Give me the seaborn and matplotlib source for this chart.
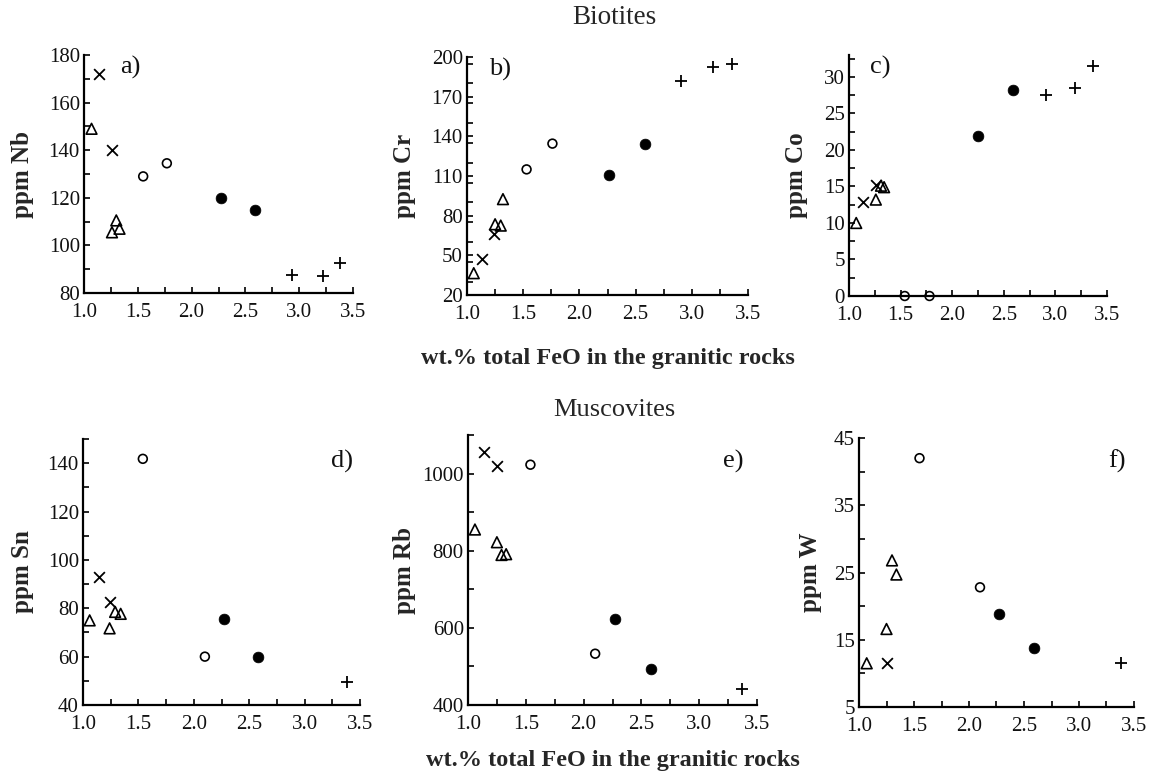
import numpy as np
import pandas as pd
import matplotlib
matplotlib.use("Agg")
import matplotlib.pyplot as plt
from matplotlib.ticker import MultipleLocator
import seaborn as sns

# Total FeO (wt.%) of the host granites and trace-element contents (ppm)
# of the micas, grouped by granite type (one marker per group).

# a) Nb in biotites
nb_cross_x, nb_cross_y = [1.14, 1.26], [172, 140]
nb_tri_x, nb_tri_y = [1.07, 1.26, 1.30, 1.33], [149, 105.5, 110.5, 107]
nb_circ_x, nb_circ_y = [1.55, 1.77], [129, 134.5]
nb_fill_x, nb_fill_y = [2.27, 2.59], [120, 115]
nb_plus_x, nb_plus_y = [2.93, 3.22, 3.38], [87.5, 87, 92.5]

# b) Cr in biotites
cr_cross_x, cr_cross_y = [1.13, 1.24], [47, 66]
cr_tri_x, cr_tri_y = [1.06, 1.25, 1.30, 1.32], [36.5, 73.5, 72.5, 92.5]
cr_circ_x, cr_circ_y = [1.53, 1.76], [115, 134.5]
cr_fill_x, cr_fill_y = [2.26, 2.58], [111, 134.5]
cr_plus_x, cr_plus_y = [2.905, 3.19, 3.36], [181.5, 192.5, 194.5]

# c) Co in biotites
co_cross_x, co_cross_y = [1.14, 1.26], [12.9, 15.2]
co_tri_x, co_tri_y = [1.07, 1.26, 1.31, 1.34], [10.0, 13.2, 15.1, 14.9]
co_circ_x, co_circ_y = [1.54, 1.78], [0, 0]
co_fill_x, co_fill_y = [2.25, 2.59], [21.9, 28.2]
co_plus_x, co_plus_y = [2.91, 3.19, 3.36], [27.5, 28.5, 31.5]

# d) Sn in muscovites
sn_cross_x, sn_cross_y = [1.14, 1.24], [93, 82.5]
sn_tri_x, sn_tri_y = [1.06, 1.24, 1.29, 1.34], [75, 71.7, 78.5, 77.7]
sn_circ_x, sn_circ_y = [1.54, 2.10], [141.8, 60]
sn_fill_x, sn_fill_y = [2.27, 2.58], [75.5, 60]
sn_plus_x, sn_plus_y = [3.38], [49.7]

# e) Rb in muscovites
rb_cross_x, rb_cross_y = [1.14, 1.25], [1055, 1019]
rb_tri_x, rb_tri_y = [1.06, 1.25, 1.29, 1.33], [855, 822, 789, 791]
rb_circ_x, rb_circ_y = [1.54, 2.10], [1023, 533]
rb_fill_x, rb_fill_y = [2.27, 2.58], [623, 493]
rb_plus_x, rb_plus_y = [3.37], [441]

# f) W in muscovites
w_cross_x, w_cross_y = [1.25], [11.5]
w_tri_x, w_tri_y = [1.07, 1.25, 1.30, 1.34], [11.5, 16.6, 26.8, 24.7]
w_circ_x, w_circ_y = [1.55, 2.10], [42, 22.8]
w_fill_x, w_fill_y = [2.27, 2.59], [18.9, 13.8]
w_plus_x, w_plus_y = [3.38], [11.6]

panel_letters = ["a)", "b)", "c)", "d)", "e)", "f)"]
y_labels = ["ppm Nb", "ppm Cr", "ppm Co", "ppm Sn", "ppm Rb", "ppm W"]
x_label = "wt.% total FeO in the granitic rocks"
x_ticks = [1.0, 1.5, 2.0, 2.5, 3.0, 3.5]
row_titles = ["Biotites", "Muscovites"]


def panel_frame(cross, tri, circ, fill, plus):
    rows = []
    for name, (xs, ys) in zip(["cross", "tri", "circ", "fill", "plus"],
                              [cross, tri, circ, fill, plus]):
        for xv, yv in zip(xs, ys):
            rows.append({"feo": xv, "ppm": yv, "group": name})
    return pd.DataFrame(rows)


panels = [
    panel_frame((nb_cross_x, nb_cross_y), (nb_tri_x, nb_tri_y), (nb_circ_x, nb_circ_y),
                (nb_fill_x, nb_fill_y), (nb_plus_x, nb_plus_y)),
    panel_frame((cr_cross_x, cr_cross_y), (cr_tri_x, cr_tri_y), (cr_circ_x, cr_circ_y),
                (cr_fill_x, cr_fill_y), (cr_plus_x, cr_plus_y)),
    panel_frame((co_cross_x, co_cross_y), (co_tri_x, co_tri_y), (co_circ_x, co_circ_y),
                (co_fill_x, co_fill_y), (co_plus_x, co_plus_y)),
    panel_frame((sn_cross_x, sn_cross_y), (sn_tri_x, sn_tri_y), (sn_circ_x, sn_circ_y),
                (sn_fill_x, sn_fill_y), (sn_plus_x, sn_plus_y)),
    panel_frame((rb_cross_x, rb_cross_y), (rb_tri_x, rb_tri_y), (rb_circ_x, rb_circ_y),
                (rb_fill_x, rb_fill_y), (rb_plus_x, rb_plus_y)),
    panel_frame((w_cross_x, w_cross_y), (w_tri_x, w_tri_y), (w_circ_x, w_circ_y),
                (w_fill_x, w_fill_y), (w_plus_x, w_plus_y)),
]

sns.set_theme(style="ticks")
plt.rcParams["font.family"] = ["Liberation Serif", "DejaVu Serif"]

# marker styling per group
styles = {
    "cross": dict(marker="x", s=60, color="black", linewidth=1.3),
    "tri": dict(marker="^", s=60, facecolor="none", edgecolor="black", linewidth=1.2),
    "circ": dict(marker="o", s=40, facecolor="none", edgecolor="black", linewidth=1.2),
    "fill": dict(marker="o", s=60, color="black", edgecolor="black", linewidth=0.5),
    "plus": dict(marker="+", s=75, color="black", linewidth=1.3),
}

W, H = 1155, 772
fig = plt.figure(figsize=(W / 100, H / 100), dpi=100)

# axes boxes in pixels: left, right, top, bottom
boxes = [
    (84, 353, 55, 293),
    (467, 748, 57, 295),
    (849, 1107, 55, 296),
    (83, 360, 439, 705),
    (468, 757, 435, 705),
    (859, 1134, 438, 707),
]
ylims = [(80, 180), (20, 200), (0, 33), (40, 150), (400, 1100), (5, 45)]
ymajor = [20, 30, 5, 20, 200, 10]
ystart = [80, 20, 0, 40, 400, 5]
yend = [180, 200, 30, 140, 1000, 45]
ylab_dx = [61, 62, 53, 60, 63, 49]
letter_pos = [(0.134, 0.995), (0.08, 0.995), (0.08, 0.995),
              (0.894, 0.96), (0.882, 0.945), (0.905, 0.957)]
xlab_pad = {1: 17.5, 4: 12}

for i, (df, box) in enumerate(zip(panels, boxes)):
    l, r, t, b = box
    ax = fig.add_axes([l / W, 1 - b / H, (r - l) / W, (b - t) / H])
    for name, st in styles.items():
        sub = df[df["group"] == name]
        if len(sub):
            sns.scatterplot(data=sub, x="feo", y="ppm", ax=ax, legend=False,
                            clip_on=False, zorder=3, **st)
    ax.set_xlim(1.0, 3.5)
    ax.set_xticks(x_ticks)
    ax.set_xticklabels([f"{v:.1f}" for v in x_ticks])
    ax.xaxis.set_minor_locator(MultipleLocator(0.25))
    yt = np.arange(ystart[i], yend[i] + 0.001, ymajor[i])
    ax.set_yticks(yt)
    ax.set_yticklabels([f"{int(v)}" for v in yt])
    ax.yaxis.set_minor_locator(MultipleLocator(ymajor[i] / 2))
    ax.set_ylim(*ylims[i])
    ax.tick_params(which="both", direction="in", length=4, width=1.2,
                   color="black", labelsize=15, labelcolor="#111111")
    ax.tick_params(axis="x", pad=7)
    ax.tick_params(axis="y", pad=3)
    for side in ["top", "right"]:
        ax.spines[side].set_visible(False)
    for side in ["left", "bottom"]:
        ax.spines[side].set_linewidth(1.6)
        ax.spines[side].set_color("black")
    ax.set_facecolor("white")
    ax.set_xlabel("")
    ax.set_ylabel(y_labels[i], fontsize=18, fontweight="bold", va="center")
    ax.yaxis.set_label_coords(-ylab_dx[i] / (r - l), 0.5)
    lx, ly = letter_pos[i]
    ax.text(lx, ly, panel_letters[i], transform=ax.transAxes, fontsize=19,
            ha="left", va="top", color="#111111")
    if i in xlab_pad:
        ax.set_xlabel(x_label, fontsize=17.5, fontweight="bold", labelpad=xlab_pad[i])

fig.text(614 / W, 1 - 17 / H, row_titles[0], ha="center", va="center", fontsize=19.5)
fig.text(614 / W, 1 - 410 / H, row_titles[1], ha="center", va="center", fontsize=19)

fig.savefig("out.png", dpi=100, facecolor="white")
